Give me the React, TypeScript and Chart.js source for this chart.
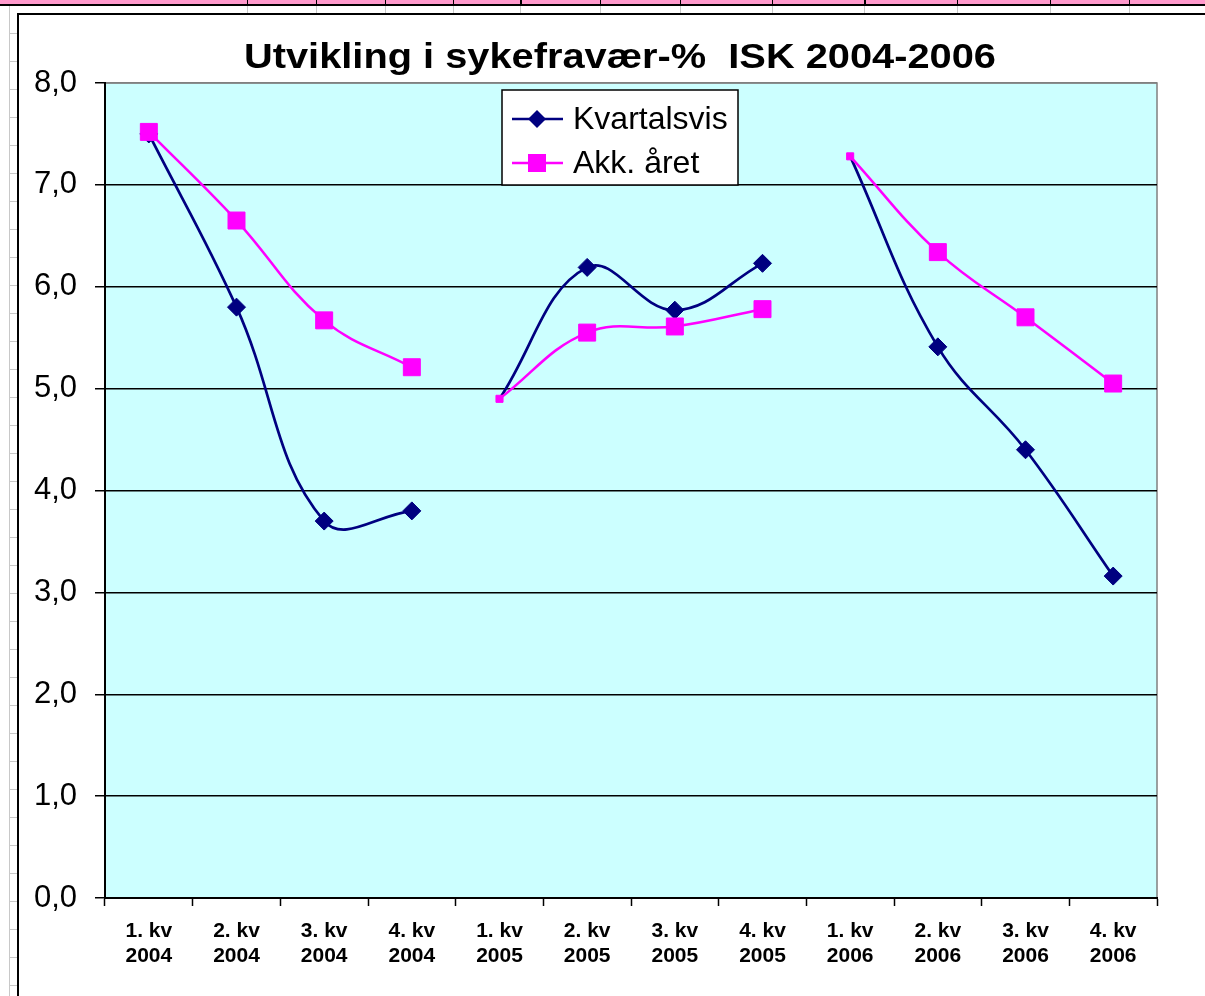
import React, { useEffect, useRef } from "react";
import { Chart, registerables } from "chart.js";

Chart.register(...registerables);

// ---- data ----
const quarters = ["1. kv", "2. kv", "3. kv", "4. kv"];
const years = ["2004", "2005", "2006"];
const categories: string[][] = years.flatMap((y) => quarters.map((q) => [q, y]));
const kvartalsvis = [7.5, 5.8, 3.7, 3.8, 4.9, 6.19, 5.77, 6.23, 7.28, 5.41, 4.4, 3.16];
const akkAret = [7.52, 6.65, 5.67, 5.21, 4.9, 5.55, 5.61, 5.78, 7.28, 6.34, 5.7, 5.05];
const seriesNames = ["Kvartalsvis", "Akk. året"];
const titleText = "Utvikling i sykefravær-%  ISK 2004-2006";
const yMin = 0;
const yMax = 8;
const yStep = 1;

// ---- styles ----
const BLUE = "#000080";
const PINK = "#FF00FF";
const PLOT_BG = "#CCFFFF";
const FONT = '"Liberation Sans", Arial, sans-serif';

const firstOfYear = (i: number) => i % 4 === 0 && i > 0;

function yearSlice(values: number[], y: number) {
  return values.map((v, i) => (Math.floor(i / 4) === y ? v : null));
}

function buildDatasets() {
  const ds: any[] = [];
  // pink first => drawn on top
  years.forEach((_, y) => {
    ds.push({
      label: seriesNames[1],
      data: yearSlice(akkAret, y),
      borderColor: PINK,
      backgroundColor: PINK,
      pointBackgroundColor: PINK,
      pointBorderColor: PINK,
      borderWidth: 2.5,
      pointStyle: "rect",
      pointRadius: (c: any) => (firstOfYear(c.dataIndex) ? 5 : 12),
      pointBorderWidth: 1,
      tension: 0.4,
      fill: false,
      spanGaps: false,
    });
  });
  years.forEach((_, y) => {
    ds.push({
      label: seriesNames[0],
      data: yearSlice(kvartalsvis, y),
      borderColor: BLUE,
      backgroundColor: BLUE,
      pointBackgroundColor: BLUE,
      pointBorderColor: BLUE,
      borderWidth: 2.7,
      pointStyle: "rectRot",
      pointRadius: (c: any) => (firstOfYear(c.dataIndex) ? 2 : 9),
      pointBorderWidth: 1,
      tension: 0.4,
      fill: false,
      spanGaps: false,
    });
  });
  return ds;
}

const decorPlugin = {
  id: "decor",
  beforeDraw(chart: any) {
    const { ctx, chartArea: a } = chart;
    ctx.save();
    ctx.fillStyle = PLOT_BG;
    ctx.fillRect(a.left, a.top, a.right - a.left, a.bottom - a.top);
    ctx.strokeStyle = "#808080";
    ctx.lineWidth = 1.5;
    ctx.strokeRect(a.left, a.top, a.right - a.left, a.bottom - a.top);
    ctx.restore();
  },
  afterDraw(chart: any) {
    const { ctx, chartArea: a } = chart;
    ctx.save();
    // title
    ctx.font = "bold 35px " + FONT;
    ctx.fillStyle = "#000";
    ctx.textBaseline = "alphabetic";
    ctx.textAlign = "center";
    const w = ctx.measureText(titleText).width;
    const sx = 752 / w;
    ctx.translate(620, 68);
    ctx.scale(sx, 1);
    ctx.fillText(titleText, 0, 0);
    ctx.setTransform(1, 0, 0, 1, 0, 0);

    // legend
    const lx = a.left + 397;
    const ly = a.top + 7;
    const lw = 236;
    const lh = 95;
    ctx.fillStyle = "#FFFFFF";
    ctx.fillRect(lx, ly, lw, lh);
    ctx.strokeStyle = "#000";
    ctx.lineWidth = 1.5;
    ctx.strokeRect(lx, ly, lw, lh);
    const rows = [
      { name: seriesNames[0], color: BLUE, style: "diamond", y: ly + 29 },
      { name: seriesNames[1], color: PINK, style: "square", y: ly + 73 },
    ];
    rows.forEach((r) => {
      ctx.strokeStyle = r.color;
      ctx.lineWidth = 2.7;
      ctx.beginPath();
      ctx.moveTo(lx + 10, r.y);
      ctx.lineTo(lx + 61, r.y);
      ctx.stroke();
      const cx = lx + 35;
      ctx.fillStyle = r.color;
      ctx.beginPath();
      if (r.style === "diamond") {
        ctx.moveTo(cx, r.y - 9);
        ctx.lineTo(cx + 9, r.y);
        ctx.lineTo(cx, r.y + 9);
        ctx.lineTo(cx - 9, r.y);
        ctx.closePath();
      } else {
        ctx.rect(cx - 9, r.y - 9, 18, 18);
      }
      ctx.fill();
      ctx.fillStyle = "#000";
      ctx.font = "32px " + FONT;
      ctx.textAlign = "left";
      ctx.textBaseline = "alphabetic";
      ctx.fillText(r.name, lx + 71, r.y + 10);
    });
    ctx.restore();
  },
};

const colXs = [247, 316, 385, 453, 520, 600, 680, 772, 864, 957, 1050, 1129];
const rowYs = Array.from({ length: 35 }, (_, k) => 33 + 28 * k);

export default function App() {
  const ref = useRef<HTMLCanvasElement | null>(null);

  useEffect(() => {
    if (!ref.current) return;
    const chart = new Chart(ref.current, {
      type: "line",
      data: { labels: categories, datasets: buildDatasets() },
      options: {
        responsive: false,
        animation: false,
        devicePixelRatio: 1,
        layout: { padding: { top: 83, right: 48, left: 0, bottom: 0 } },
        plugins: {
          legend: { display: false },
          title: { display: false },
          tooltip: { enabled: false },
        },
        scales: {
          x: {
            type: "category",
            offset: true,
            grid: {
              display: true,
              drawOnChartArea: false,
              drawTicks: true,
              tickLength: 8,
              tickColor: "#000",
              tickWidth: 1.5,
              offset: true,
            },
            border: { color: "#000", width: 2 },
            ticks: {
              color: "#000",
              autoSkip: false,
              maxRotation: 0,
              padding: 13,
              font: {
                family: FONT,
                size: 21,
                weight: "bold",
                lineHeight: 25 / 21,
              },
            },
            afterFit: (s: any) => {
              s.height = 98;
            },
          },
          y: {
            min: yMin,
            max: yMax,
            ticks: {
              stepSize: yStep,
              color: "#000",
              padding: 18,
              font: { family: FONT, size: 31 },
              callback: (v: any) => Number(v).toFixed(1).replace(".", ","),
            },
            grid: {
              color: (c: any) => (c.tick && c.tick.value === yMax ? "#808080" : "#000"),
              lineWidth: 1.5,
              tickLength: 10,
              tickColor: "#000",
              tickWidth: 1.5,
            },
            border: { color: "#000", width: 2 },
            afterFit: (s: any) => {
              s.width = 105;
            },
          },
        },
      },
      plugins: [decorPlugin],
    } as any);
    return () => chart.destroy();
  }, []);

  return (
    <div
      style={{
        position: "absolute",
        left: 0,
        top: 0,
        width: 1205,
        height: 996,
        background: "#FFFFFF",
        overflow: "hidden",
      }}
    >
      {/* spreadsheet header strip */}
      <div style={{ position: "absolute", left: 0, top: 0, width: 1205, height: 4, background: "#FF99CC" }} />
      <div style={{ position: "absolute", left: 0, top: 4, width: 1205, height: 2, background: "#000" }} />
      {colXs.map((x, i) => (
        <React.Fragment key={"c" + i}>
          <div style={{ position: "absolute", left: x, top: 0, width: i === 4 || i === 8 ? 2 : 1, height: 4, background: "#000" }} />
          <div style={{ position: "absolute", left: x, top: 6, width: 1, height: 7, background: "#C8C8C8" }} />
        </React.Fragment>
      ))}
      {/* left strip */}
      <div style={{ position: "absolute", left: 9, top: 6, width: 1, height: 990, background: "#C8C8C8" }} />
      {rowYs.map((y, i) => (
        <div key={"r" + i} style={{ position: "absolute", left: 9, top: y, width: 8, height: 1, background: "#C8C8C8" }} />
      ))}
      {/* chart object border */}
      <div
        style={{
          position: "absolute",
          left: 17,
          top: 13,
          width: 1205,
          height: 996,
          borderLeft: "2px solid #000",
          borderTop: "2px solid #000",
          background: "#FFFFFF",
        }}
      />
      <canvas
        ref={ref}
        width={1205}
        height={996}
        style={{ position: "absolute", left: 0, top: 0, width: 1205, height: 996, display: "block" }}
      />
    </div>
  );
}
